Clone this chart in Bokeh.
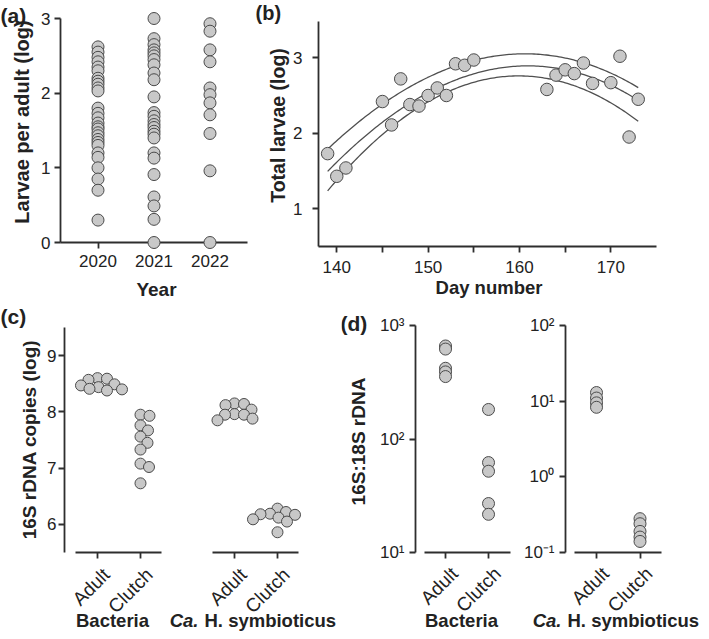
import math
import numpy as np
from bokeh.plotting import figure
from bokeh.layouts import row, column
from bokeh.models import Label, FixedTicker, Range1d
from bokeh.embed import file_html
from bokeh.resources import INLINE

# ---------------- data ----------------
# (a) larvae per adult (log) by year
years = [2020, 2021, 2022]
larvae_per_adult_2020 = [2.62, 2.55, 2.48, 2.42, 2.35, 2.30, 2.20, 2.16, 2.12, 2.07, 2.03,
                         1.80, 1.73, 1.67, 1.60, 1.55, 1.52, 1.47, 1.43, 1.38, 1.34, 1.30,
                         1.20, 1.14, 1.00, 0.85, 0.70, 0.30]
larvae_per_adult_2021 = [3.00, 2.73, 2.65, 2.58, 2.54, 2.50, 2.45, 2.38, 2.27, 2.18, 1.95,
                         1.74, 1.69, 1.63, 1.58, 1.54, 1.49, 1.45, 1.40, 1.20, 1.13, 0.91,
                         0.61, 0.49, 0.31, 0.00]
larvae_per_adult_2022 = [2.93, 2.83, 2.58, 2.42, 2.07, 1.98, 1.87, 1.71, 1.46, 0.96, 0.00]
larvae_ticks = [0, 1, 2, 3]

# (b) total larvae (log) by day number, with fitted curve and band
day_number = [139, 140, 141, 145, 146, 147, 148, 149, 150, 151, 152, 153, 154, 155,
              163, 164, 165, 166, 167, 168, 170, 171, 172, 173]
total_larvae = [1.73, 1.43, 1.54, 2.42, 2.11, 2.72, 2.38, 2.36, 2.50, 2.60, 2.50, 2.92,
                2.90, 2.97, 2.58, 2.77, 2.84, 2.79, 2.93, 2.66, 2.67, 3.02, 1.95, 2.45]
fit_days = [139, 145, 150, 155, 160, 165, 170, 173]
fit_upper = [1.80, 2.36, 2.74, 2.99, 3.06, 2.98, 2.78, 2.62]
fit_middle = [1.50, 2.14, 2.52, 2.81, 2.90, 2.83, 2.62, 2.45]
fit_lower = [1.22, 2.03, 2.40, 2.65, 2.75, 2.69, 2.42, 2.14]
day_ticks = [140, 145, 150, 155, 160, 165, 170]
day_tick_labels = ["140", "", "150", "", "160", "", "170"]
total_ticks = [1, 2, 3]

# (c) 16S rDNA copies (log)
sample_types = ["Adult", "Clutch"]
copies_bacteria_adult = [8.60, 8.59, 8.57, 8.49, 8.47, 8.44, 8.41, 8.40, 8.38]
copies_bacteria_clutch = [7.95, 7.93, 7.76, 7.67, 7.56, 7.45, 7.33, 7.08, 7.02, 6.73]
copies_ca_adult = [8.15, 8.14, 8.12, 8.04, 7.96, 7.95, 7.95, 7.88, 7.85]
copies_ca_clutch = [6.28, 6.22, 6.19, 6.18, 6.17, 6.12, 6.09, 6.05, 5.86]
copies_ticks = [6, 7, 8, 9]

# (d) 16S:18S rDNA ratio
ratio_bacteria_adult = [660, 620, 420, 390, 355]
ratio_bacteria_clutch = [182, 62, 52, 27, 21.7]
ratio_ca_adult = [13, 11, 9.5, 8.3]
ratio_ca_clutch = [0.28, 0.24, 0.19, 0.16, 0.14]
ratio_ticks_bacteria = [10, 100, 1000]
ratio_labels_bacteria = ["10\u00b9", "10\u00b2", "10\u00b3"]
ratio_ticks_ca = [0.1, 1, 10, 100]
ratio_labels_ca = ["10\u207b\u00b9", "10\u2070", "10\u00b9", "10\u00b2"]

# ---------------- style ----------------
FONT = "Liberation Sans"
INK = "#222222"
AXC = "#2e2e2e"
FILL = "#c8c8c8"
EDGE = "#4a4a4a"
BASE_SHIFT = 7  # px: Bokeh places the alphabetic anchor this far below the glyph baseline


class Frame:
    """Maps reference pixel positions of an axis box to data values."""
    def __init__(self, left, right, x0, x1, top, bottom, ytop, ybot, log=False):
        self.left, self.right, self.x0, self.x1 = left, right, x0, x1
        self.top, self.bottom, self.ytop, self.ybot = top, bottom, ytop, ybot
        self.log = log

    def x(self, px):
        return self.x0 + (px - self.left) * (self.x1 - self.x0) / (self.right - self.left)

    def px(self, x):
        return self.left + (x - self.x0) * (self.right - self.left) / (self.x1 - self.x0)

    def y(self, py):
        if self.log:
            a, b = math.log10(self.ytop), math.log10(self.ybot)
            return 10 ** (a + (py - self.top) * (b - a) / (self.bottom - self.top))
        return self.ytop + (py - self.top) * (self.ybot - self.ytop) / (self.bottom - self.top)

    def xscale(self):
        return (self.right - self.left) / (self.x1 - self.x0)

    def yscale(self):
        return (self.bottom - self.top) / (self.ytop - self.ybot)


def build(fr, cx0, cx1, cy0, cy1, ylog=False, yaxis=True):
    p = figure(width=cx1 - cx0, height=cy1 - cy0,
               x_range=Range1d(fr.x(cx0), fr.x(cx1)),
               y_range=Range1d(fr.y(cy1), fr.y(cy0)),
               y_axis_type="log" if ylog else "linear",
               y_axis_location="left" if yaxis else None,
               min_border_left=0, min_border_right=0,
               min_border_top=0, min_border_bottom=0,
               output_backend="svg", toolbar_location=None)
    p.grid.visible = False
    p.outline_line_color = None
    p.background_fill_color = "white"
    p.border_fill_color = "white"
    return p


def style_axis(ax, ticks, loc, bounds, labels=None, size="17px", standoff=4):
    ax.fixed_location = loc
    ax.bounds = bounds
    ax.ticker = FixedTicker(ticks=ticks, minor_ticks=[])
    ax.axis_line_color = AXC
    ax.axis_line_width = 1.8
    ax.major_tick_line_color = AXC
    ax.major_tick_line_width = 1.8
    ax.major_tick_out = 6
    ax.major_tick_in = 0
    ax.minor_tick_line_color = None
    ax.major_label_text_font = FONT
    ax.major_label_text_font_size = size
    ax.major_label_text_color = INK
    ax.major_label_standoff = standoff
    if labels is not None:
        ax.major_label_overrides = {t: l for t, l in zip(ticks, labels)}


def dots(p, xs, ys, size=12, level="glyph"):
    p.scatter(xs, ys, size=size, fill_color=FILL, line_color=EDGE, line_width=1, level=level)


def label(p, fr, rx, ry, text, size="19px", style="bold", align="left", angle=0.0,
          baseline="alphabetic"):
    if baseline == "alphabetic":
        if angle == 0.0:
            ry -= BASE_SHIFT
        else:
            rx -= BASE_SHIFT
    p.add_layout(Label(x=fr.x(rx), y=fr.y(ry), text=text, text_font=FONT,
                       text_font_size=size, text_font_style=style, text_color=INK,
                       text_align=align, text_baseline=baseline, angle=angle))


def category_labels(p, fr, axis_py):
    for pos, name in zip([1, 2], sample_types):
        label(p, fr, fr.px(pos) + 9, axis_py + 18, name, size="19px", style="normal",
              align="right", angle=math.pi / 4, baseline="middle")


def swarm(center, values, fr, diam, overlap=0.82, step=0.5):
    ys = [v * fr.yscale() for v in values]
    order = sorted(range(len(values)), key=lambda i: -values[i])
    placed, offs = [], [0.0] * len(values)
    mind = diam * overlap
    for i in order:
        k = 0
        while True:
            c = ((k + 1) // 2) * step * (1 if k % 2 else -1)
            if all((c - px) ** 2 + (ys[i] - py) ** 2 >= mind ** 2 for px, py in placed):
                break
            k += 1
        placed.append((c, ys[i]))
        offs[i] = c
    return [center + o / fr.xscale() for o in offs]


TOP0, MID, BOT = 1, 300, 632   # reference-pixel rows covered by the two layout rows

# ---------------- panel (a) ----------------
FA = Frame(63, 250, 2019.33, 2022.67, 19, 243, 3.0, 0.0)
pa = build(FA, 3, 252, TOP0, MID)
style_axis(pa.yaxis[0], larvae_ticks, FA.x0, (0, 3), standoff=4)
style_axis(pa.xaxis[0], years, 0, (FA.x0, FA.x1), standoff=6)
for yr, vals in zip(years, [larvae_per_adult_2020, larvae_per_adult_2021, larvae_per_adult_2022]):
    dots(pa, [yr] * len(vals), vals, size=12, level="overlay")
label(pa, FA, 3, 23, "(a)", size="21px")
label(pa, FA, 31, 122.5, "Larvae per adult (log)", size="20px", align="center", angle=math.pi / 2)
label(pa, FA, 159, 297, "Year", size="19px", align="center")

# ---------------- panel (b) ----------------
FB = Frame(321, 659, 138, 175, 22, 247, 3.48, 0.5)
pb = build(FB, 252, 704, TOP0, MID)
style_axis(pb.yaxis[0], total_ticks, FB.x0, (FB.ybot, FB.ytop), standoff=10)
style_axis(pb.xaxis[0], day_ticks, FB.ybot, (FB.x0, FB.x1), labels=day_tick_labels, standoff=8)
xs = np.linspace(min(fit_days), max(fit_days), 150)
for curve in (fit_upper, fit_middle, fit_lower):
    coef = np.polyfit(fit_days, curve, 3)
    pb.line(xs, np.polyval(coef, xs), line_color="#4f4f4f", line_width=1.3)
dots(pb, day_number, total_larvae, size=12.5)
label(pb, FB, 258, 20, "(b)", size="20px")
label(pb, FB, 287, 126, "Total larvae (log)", size="19.5px", align="center", angle=math.pi / 2)
label(pb, FB, 491.5, 295, "Day number", size="18.5px", align="center")

# ---------------- panel (c) ----------------
FC1 = Frame(67, 170, 0.233, 2.628, 328, 553, 9.5, 5.5)
FC2 = Frame(170, 303, -0.558, 2.535, 328, 553, 9.5, 5.5)
pc1 = build(FC1, 3, 170, MID, BOT)
pc2 = build(FC2, 170, 344, MID, BOT, yaxis=False)
style_axis(pc1.yaxis[0], copies_ticks, FC1.x0, (5.5, 9.5), standoff=2)
for p, fr in ((pc1, FC1), (pc2, FC2)):
    style_axis(p.xaxis[0], [1, 2], 5.5, (0.5, 2.5), labels=["", ""])
    category_labels(p, fr, 554)
for p, fr, groups in ((pc1, FC1, (copies_bacteria_adult, copies_bacteria_clutch)),
                      (pc2, FC2, (copies_ca_adult, copies_ca_clutch))):
    for pos, vals in zip([1, 2], groups):
        dots(p, swarm(pos, vals, fr, 11), vals, size=11)
label(pc1, FC1, 3, 324, "(c)", size="21px")
label(pc1, FC1, 39, 440, "16S rDNA copies (log)", size="19px", align="center", angle=math.pi / 2)
label(pc1, FC1, 115, 628, "Bacteria", size="18.5px", align="center")
label(pc2, FC2, 201, 628, "Ca.", size="18.5px", style="bold italic", align="right")
label(pc2, FC2, 207, 628, "H. symbioticus", size="18.5px", align="left")

# ---------------- panel (d) ----------------
FD1 = Frame(418, 520, 0.302, 2.674, 326, 553, 1000, 10, log=True)
FD2 = Frame(568, 670, 0.287, 2.632, 326, 553, 100, 0.1, log=True)
pd1 = build(FD1, 344, 520, MID, BOT, ylog=True)
pd2 = build(FD2, 520, 704, MID, BOT, ylog=True)
style_axis(pd1.yaxis[0], ratio_ticks_bacteria, FD1.x0, (10, 1000),
           labels=ratio_labels_bacteria, standoff=5)
style_axis(pd2.yaxis[0], ratio_ticks_ca, FD2.x0, (0.1, 100),
           labels=ratio_labels_ca, standoff=5)
for p, fr, base in ((pd1, FD1, 10), (pd2, FD2, 0.1)):
    style_axis(p.xaxis[0], [1, 2], base, (0.5, 2.5), labels=["", ""])
    category_labels(p, fr, 553)
for p, groups in ((pd1, (ratio_bacteria_adult, ratio_bacteria_clutch)),
                  (pd2, (ratio_ca_adult, ratio_ca_clutch))):
    for pos, vals in zip([1, 2], groups):
        dots(p, [pos] * len(vals), vals, size=12)
label(pd1, FD1, 343, 331, "(d)", size="21px")
label(pd1, FD1, 368, 442, "16S:18S rDNA", size="19px", align="center", angle=math.pi / 2)
label(pd1, FD1, 464, 628, "Bacteria", size="18.5px", align="center")
label(pd2, FD2, 564, 628, "Ca.", size="18.5px", style="bold italic", align="right")
label(pd2, FD2, 570, 628, "H. symbioticus", size="18.5px", align="left")

layout = column(row(pa, pb), row(pc1, pc2, pd1, pd2))
open("out.html", "w").write(file_html(layout, INLINE))
